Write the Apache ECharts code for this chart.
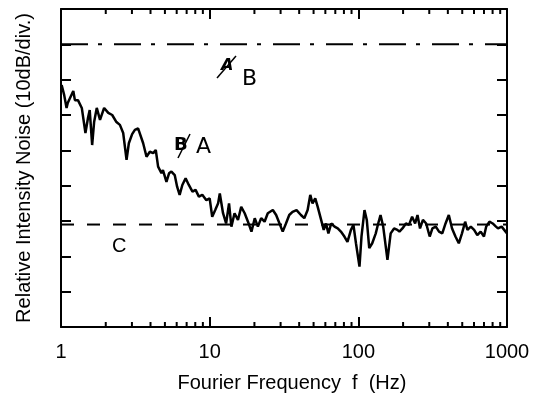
<!DOCTYPE html>
<html>
<head>
<meta charset="utf-8">
<script src="https://cdn.jsdelivr.net/npm/echarts@6/dist/echarts.min.js"></script>
<style>
  html, body { margin: 0; padding: 0; background: #fff; }
  #chart { width: 540px; height: 395px; }
</style>
</head>
<body>
<div id="chart"></div>
<script>
// Fourier frequency (Hz) of the measured RIN trace
var freqHz = [
  1.01, 1.05, 1.09, 1.11, 1.15, 1.21, 1.24, 1.30, 1.38, 1.46,
  1.52, 1.56, 1.62, 1.67, 1.74, 1.83, 1.95, 2.08, 2.21, 2.36,
  2.49, 2.62, 2.76, 2.86, 3.01, 3.14, 3.30, 3.57, 3.76, 3.96,
  4.17, 4.34, 4.50, 4.74, 4.85, 5.12, 5.33, 5.53, 5.82, 6.04,
  6.28, 6.55, 6.89, 7.24, 7.66, 8.04, 8.46, 8.92, 9.50, 10.0,
  10.4, 10.9, 11.4, 11.7, 12.3, 12.9, 13.5, 14.0, 14.7, 15.5,
  16.3, 17.2, 18.1, 19.1, 20.1, 21.1, 22.2, 23.4, 24.6, 26.6,
  28.0, 29.5, 31.0, 32.6, 34.3, 36.1, 38.4, 41.1, 43.3, 45.6,
  47.5, 49.2, 51.3, 53.3, 56.2, 58.5, 60.6, 62.9, 65.7, 69.2,
  72.7, 76.3, 80.6, 84.5, 89.2, 92.7, 96.4, 101.8, 105, 110,
  114, 118.4, 124, 131, 136, 141, 147, 157, 165, 174,
  183, 189, 198, 209, 219, 230, 241, 250, 260, 272,
  286, 302, 315, 332, 349, 367, 386, 406, 427, 450,
  474, 498, 523, 542, 571, 601, 631, 665, 700, 724,
  762, 801, 843, 870, 920, 1000
];
// relative intensity noise, dB (axis is 10 dB / div, arbitrary zero)
var rinDb = [
  68.5, 65.7, 62, 63.4, 64.8, 66.8, 64.2, 64.2, 62, 54.9,
  59.2, 61.4, 51.5, 58, 62, 58.6, 62, 60.6, 60, 58,
  57.2, 54.9, 47.3, 52, 54.6, 55.8, 56.2, 52, 48.2, 49.6,
  49.2, 50.1, 45.4, 43.5, 44.4, 41.1, 43.5, 44, 43, 39.7,
  37.4, 40.2, 42.1, 40.2, 38.3, 38.8, 36.9, 37.4, 35.9, 36.4,
  31.2, 33.1, 35, 37.8, 32.2, 29.3, 35, 28.4, 32.2, 30.3,
  34, 32.2, 29.8, 27, 30.8, 28.4, 30.8, 29.8, 32.2, 33.1,
  31.7, 29.3, 27, 29.3, 31.7, 32.6, 33.1, 31.7, 30.8, 33.1,
  37.4, 35, 36.4, 34, 30.3, 27.5, 29.3, 26.5, 29.3, 28.4,
  27.9, 27, 25.6, 24.1, 27.5, 28.9, 23.7, 17.1, 25.6, 33.1,
  30.3, 22.3, 23.7, 26.5, 29.3, 31.7, 28.4, 19, 26.5, 27.9,
  27.5, 27, 27.9, 29.3, 28.9, 31.2, 29.3, 31.7, 27.9, 30.3,
  29.3, 25.6, 27.9, 28.4, 27, 26.5, 29.3, 31.7, 27.9, 25.6,
  23.7, 26.5, 29.8, 27.5, 28.4, 27.5, 26, 27, 25.6, 28.4,
  29.8, 29.3, 28.4, 27.9, 28.4, 26.5
];
// reference levels
var levelB = 80;   // dash-dot line
var levelC = 29;   // dashed line (C)
var freqRange = [1, 1000];
var xTickLabels = ['1', '10', '100', '1000'];
var minorFreqs = [2, 3, 4, 5, 6, 7, 8, 9, 20, 30, 40, 50, 60, 70, 80, 90, 200, 300, 400, 500, 600, 700, 800, 900];

var font = '"Liberation Sans", Arial, Helvetica, sans-serif';
var chart = echarts.init(document.getElementById('chart'));

var traceData = [];
for (var i = 0; i < freqHz.length; i++) {
  traceData.push([freqHz[i], rinDb[i]]);
}

function axisBase (pos, showLabel) {
  return {
    type: 'log',
    logBase: 10,
    position: pos,
    min: freqRange[0],
    max: freqRange[1],
    axisLine: { show: true, onZero: false, lineStyle: { color: '#000', width: 2 } },
    axisTick: { show: true, inside: true, length: 10, lineStyle: { color: '#000', width: 2 } },
    splitLine: { show: false },
    axisLabel: {
      show: showLabel,
      color: '#000',
      fontFamily: font,
      fontSize: 20,
      margin: 15,
      formatter: function (v) {
        var k = Math.round(Math.log(v) / Math.LN10);
        return xTickLabels[k];
      }
    }
  };
}

function yAxisBase (pos) {
  return {
    type: 'value',
    position: pos,
    min: 0,
    max: 90,
    interval: 10,
    axisLine: { show: true, lineStyle: { color: '#000', width: 2 } },
    axisTick: { show: true, inside: true, length: 10, lineStyle: { color: '#000', width: 2 } },
    axisLabel: { show: false },
    splitLine: { show: false }
  };
}

var bottomAxis = axisBase('bottom', true);
bottomAxis.name = 'Fourier Frequency  f  (Hz)';
bottomAxis.nameLocation = 'middle';
bottomAxis.nameGap = 46;
bottomAxis.nameTextStyle = { color: '#000', fontFamily: font, fontSize: 20, padding: [0, 0, 0, 16] };

var leftAxis = yAxisBase('left');
leftAxis.name = 'Relative Intensity Noise (10dB/div.)';
leftAxis.nameLocation = 'middle';
leftAxis.nameGap = 27;
leftAxis.nameTextStyle = { color: '#000', fontFamily: font, fontSize: 20 };

var option = {
  animation: false,
  backgroundColor: '#fff',
  grid: { left: 61, right: 33, top: 9, bottom: 68, outerBoundsMode: 'none', containLabel: false },
  xAxis: [bottomAxis, axisBase('top', false)],
  yAxis: [leftAxis, yAxisBase('right')],
  graphic: [
    { type: 'text', left: 112, top: 236, style: { text: 'C', fill: '#000', font: '20px ' + font } },
    // handwritten corrections
    { type: 'text', left: 174, top: 136, style: { text: 'B', fill: '#000', font: 'bold 18px "DejaVu Sans"' } },
    { type: 'line', shape: { x1: 178, y1: 158, x2: 190, y2: 134 }, style: { stroke: '#000', lineWidth: 1.5 } },
    { type: 'text', left: 196, top: 136, style: { text: 'A', fill: '#000', font: '22px "DejaVu Sans"' } },
    { type: 'text', left: 221, top: 58, style: { text: 'A', fill: '#000', font: 'italic bold 16px "DejaVu Sans"' } },
    { type: 'line', shape: { x1: 217, y1: 78, x2: 236, y2: 56 }, style: { stroke: '#000', lineWidth: 1.5 } },
    { type: 'text', left: 242, top: 68, style: { text: 'B', fill: '#000', font: '22px "DejaVu Sans"' } }
  ],
  series: [
    {
      type: 'line',
      name: 'RIN',
      data: traceData,
      symbol: 'none',
      lineStyle: { color: '#000', width: 2.5 },
      z: 5
    },
    {
      type: 'line',
      data: [[freqRange[0], levelB], [freqRange[1], levelB]],
      symbol: 'none',
      lineStyle: { color: '#000', width: 2, type: [27, 10, 4, 12] }
    },
    {
      type: 'line',
      data: [[freqRange[0], levelC], [freqRange[1], levelC]],
      symbol: 'none',
      lineStyle: { color: '#000', width: 2, type: [13, 13] }
    },
    {
      // minor decade ticks on top and bottom frame
      type: 'custom',
      silent: true,
      data: minorFreqs.map(function (f) { return [f]; }),
      encode: { x: 0 },
      renderItem: function (params, api) {
        var f = api.value(0);
        var b = api.coord([f, 0]);
        var t = api.coord([f, 90]);
        var st = { stroke: '#000', lineWidth: 2 };
        return {
          type: 'group',
          children: [
            { type: 'line', shape: { x1: b[0], y1: b[1], x2: b[0], y2: b[1] - 5 }, style: st },
            { type: 'line', shape: { x1: t[0], y1: t[1], x2: t[0], y2: t[1] + 5 }, style: st }
          ]
        };
      },
      z: 6
    }
  ]
};

chart.setOption(option);
</script>
</body>
</html>
